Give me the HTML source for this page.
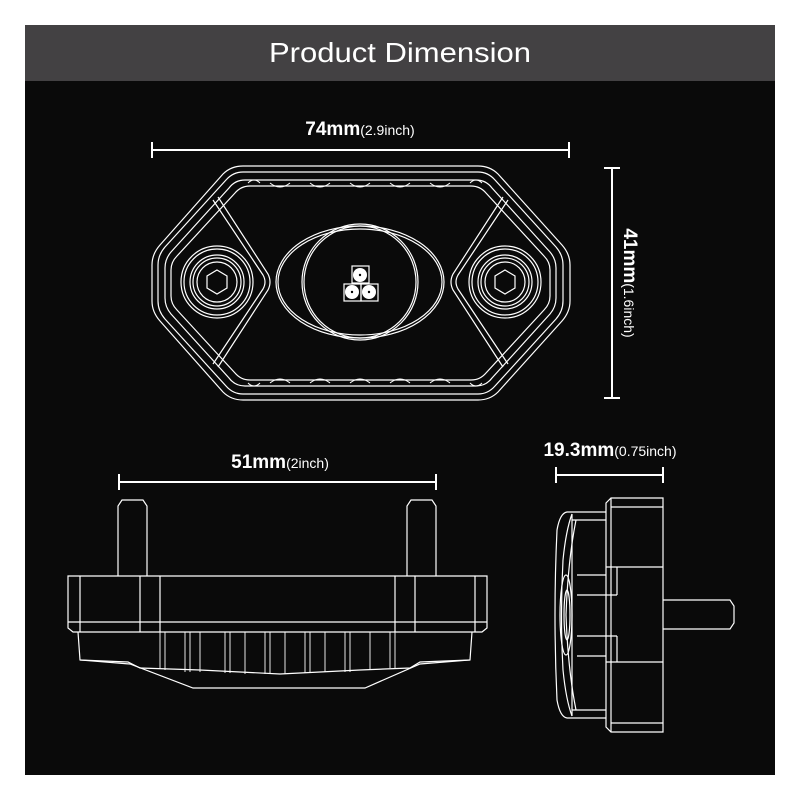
<!DOCTYPE html>
<html><head><meta charset="utf-8"><style>
html,body{margin:0;padding:0;background:#fff;width:800px;height:800px;overflow:hidden}
svg{display:block}
text{font-family:"Liberation Sans",sans-serif;fill:#fff}
</style></head><body>
<svg width="800" height="800" viewBox="0 0 800 800">
<rect x="25" y="25" width="750" height="750" fill="#0a0a0a"/>
<rect x="25" y="25" width="750" height="56" fill="#434143"/>
<text x="400" y="62" font-size="28" text-anchor="middle" textLength="262" lengthAdjust="spacingAndGlyphs">Product Dimension</text>

<g stroke="#fff" fill="none" stroke-width="1.2">
<!-- top dimension -->
<line x1="152" y1="150" x2="569" y2="150" stroke-width="2"/>
<line x1="152" y1="142" x2="152" y2="158" stroke-width="2"/>
<line x1="569" y1="142" x2="569" y2="158" stroke-width="2"/>
<!-- vertical dimension -->
<line x1="612" y1="168" x2="612" y2="398" stroke-width="2"/>
<line x1="604" y1="168" x2="620" y2="168" stroke-width="2"/>
<line x1="604" y1="398" x2="620" y2="398" stroke-width="2"/>

<!-- top view octagon -->
<path d="M243 166 L478 166 Q490 166 498 174 L562 245 Q570 254 570 265 L570 301 Q570 312 562 321 L498 392 Q490 400 478 400 L243 400 Q231 400 223 392 L160 321 Q152 312 152 301 L152 265 Q152 254 160 245 L223 174 Q231 166 243 166 Z"/>
<path d="M243 172 L478 172 Q488 172 495 180 L556 247 Q563 255 563 265 L563 301 Q563 311 556 319 L495 386 Q488 394 478 394 L243 394 Q233 394 226 386 L165 319 Q158 311 158 301 L158 265 Q158 255 165 247 L226 180 Q233 172 243 172 Z"/>
<path d="M245 180 L476 180 Q486 180 492 188 L550 252 Q556 259 556 268 L556 298 Q556 307 550 314 L492 378 Q486 386 476 386 L245 386 Q235 386 229 378 L171 314 Q165 307 165 298 L165 268 Q165 259 171 252 L229 188 Q235 180 245 180 Z"/>
<path d="M250 186 L471 186 Q480 186 486 193 L544 256 Q550 262 550 270 L550 296 Q550 304 544 310 L486 373 Q480 380 471 380 L250 380 Q241 380 235 373 L177 310 Q171 304 171 296 L171 270 Q171 262 177 256 L235 193 Q241 186 250 186 Z"/>
<!-- scallops -->
<g stroke-width="1">
<path d="M248 183 q6 -6 12 0 M270 183 q10 8 20 0 M310 183 q10 8 20 0 M350 183 q10 8 20 0 M390 183 q10 8 20 0 M430 183 q10 8 20 0 M470 183 q6 -6 12 0"/>
<path d="M248 383 q6 6 12 0 M270 383 q10 -8 20 0 M310 383 q10 -8 20 0 M350 383 q10 -8 20 0 M390 383 q10 -8 20 0 M430 383 q10 -8 20 0 M470 383 q6 6 12 0"/>
</g>
<!-- diamonds -->
<path d="M213 200 L263 275 Q267 282 263 289 L213 364"/>
<path d="M218 197 L268 274 Q272 282 268 290 L218 367"/>
<path d="M508 200 L458 275 Q454 282 458 289 L508 364"/>
<path d="M503 197 L453 274 Q449 282 453 290 L503 367"/>
<!-- screws -->
<g>
<circle cx="217" cy="282" r="36"/><circle cx="217" cy="282" r="33"/><circle cx="217" cy="282" r="27"/><circle cx="217" cy="282" r="24"/><circle cx="217" cy="282" r="20"/>
<polygon points="217,270 227,276 227,288 217,294 207,288 207,276"/>
<circle cx="505" cy="282" r="36"/><circle cx="505" cy="282" r="33"/><circle cx="505" cy="282" r="27"/><circle cx="505" cy="282" r="24"/><circle cx="505" cy="282" r="20"/>
<polygon points="505,270 515,276 515,288 505,294 495,288 495,276"/>
</g>
<ellipse cx="360" cy="282" rx="84" ry="56"/>
<ellipse cx="360" cy="282" rx="82" ry="53"/>
<circle cx="360" cy="282" r="58"/>
<circle cx="360" cy="282" r="56"/>
<rect x="352" y="266" width="17" height="17"/>
<rect x="344" y="284" width="17" height="17"/>
<rect x="361" y="284" width="17" height="17"/>
</g>
<g fill="#fff"><circle cx="360" cy="275" r="7"/><circle cx="352" cy="292" r="7"/><circle cx="369" cy="292" r="7"/></g>
<g fill="#000"><circle cx="360" cy="275" r="1.2"/><circle cx="352" cy="292" r="1.2"/><circle cx="369" cy="292" r="1.2"/></g>

<text x="360" y="135" font-size="19" font-weight="bold" text-anchor="middle">74mm<tspan font-size="14" font-weight="normal">(2.9inch)</tspan></text>
<text transform="translate(624 283) rotate(90)" font-size="19" font-weight="bold" text-anchor="middle">41mm<tspan font-size="14" font-weight="normal">(1.6inch)</tspan></text>

<!-- side view -->
<g stroke="#fff" fill="none" stroke-width="1.2">
<line x1="119" y1="482" x2="436" y2="482" stroke-width="2"/>
<line x1="119" y1="474" x2="119" y2="490" stroke-width="2"/>
<line x1="436" y1="474" x2="436" y2="490" stroke-width="2"/>
<path d="M118 576 L118 506 L122 500 L143 500 L147 506 L147 576"/>
<path d="M407 576 L407 506 L411 500 L432 500 L436 506 L436 576"/>
<path d="M68 576 L487 576 L487 628 L482 632 L73 632 L68 628 Z"/>
<line x1="80" y1="576" x2="80" y2="632"/><line x1="475" y1="576" x2="475" y2="632"/>
<line x1="140" y1="576" x2="140" y2="632"/><line x1="160" y1="576" x2="160" y2="632"/>
<line x1="395" y1="576" x2="395" y2="632"/><line x1="415" y1="576" x2="415" y2="632"/>
<line x1="68" y1="622" x2="487" y2="622"/>
<path d="M78 632 L80 660 L130 664 L193 688 L365 688 L420 664 L470 660 L472 632"/>
<path d="M80 660 L128 662 L140 668 L200 670 L240 672 L280 674 L320 672 L360 670 L410 668 L420 662 L470 660"/>
<g stroke-width="0.9">
<path d="M160 632 V668 M165 632 V670 M185 632 V672 M190 632 V672 M200 632 V672 M225 632 V673 M230 632 V673 M245 632 V674 M265 632 V674 M270 632 V674 M285 632 V674 M305 632 V673 M310 632 V673 M325 632 V672 M345 632 V672 M350 632 V672 M370 632 V670 M390 632 V668 M395 632 V668"/>
</g>
</g>
<text x="280" y="468" font-size="19" font-weight="bold" text-anchor="middle">51mm<tspan font-size="14" font-weight="normal">(2inch)</tspan></text>

<!-- right side view -->
<g stroke="#fff" fill="none" stroke-width="1.2">
<line x1="556" y1="475" x2="663" y2="475" stroke-width="2"/>
<line x1="556" y1="467" x2="556" y2="483" stroke-width="2"/>
<line x1="663" y1="467" x2="663" y2="483" stroke-width="2"/>
<path d="M606 503 L611 498 L663 498 L663 732 L611 732 L606 727 Z"/>
<line x1="611" y1="498" x2="611" y2="732"/>
<line x1="611" y1="507" x2="663" y2="507"/><line x1="611" y1="723" x2="663" y2="723"/>
<line x1="606" y1="567" x2="663" y2="567"/><line x1="606" y1="662" x2="663" y2="662"/>
<line x1="617" y1="567" x2="617" y2="595"/><line x1="617" y1="636" x2="617" y2="662"/>
<line x1="577" y1="595" x2="617" y2="595"/><line x1="577" y1="636" x2="617" y2="636"/>
<line x1="577" y1="575" x2="606" y2="575"/><line x1="577" y1="656" x2="606" y2="656"/>
<path d="M663 600 L730 600 L734 606 L734 623 L730 629 L663 629"/>
<path d="M606 512 L567 512 Q560 513 557 530 Q553 615 557 700 Q560 717 567 718 L606 718"/>
<path d="M572 514 Q566 530 563 560 Q560 615 563 670 Q566 700 572 716"/>
<path d="M576 520 Q568 560 566 615 Q568 670 576 710"/>
<ellipse cx="566" cy="615" rx="6" ry="40"/>
<ellipse cx="567" cy="615" rx="3" ry="25"/>
<line x1="572" y1="520" x2="606" y2="520"/><line x1="572" y1="710" x2="606" y2="710"/>
<line x1="572" y1="514" x2="572" y2="716"/>
</g>
<text x="610" y="456" font-size="19" font-weight="bold" text-anchor="middle">19.3mm<tspan font-size="14" font-weight="normal">(0.75inch)</tspan></text>
</svg>
</body></html>
